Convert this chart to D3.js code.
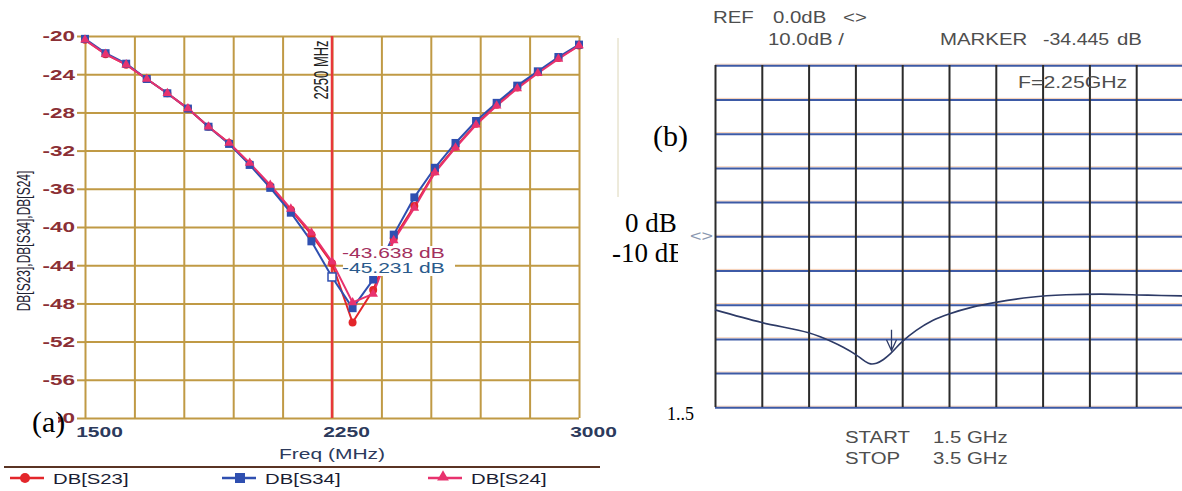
<!DOCTYPE html>
<html><head><meta charset="utf-8">
<script src="https://cdn.jsdelivr.net/npm/d3@7"></script>
<style>html,body{margin:0;padding:0;background:#fff;} svg{display:block;}</style>
</head><body>
<svg id="c" width="1182" height="491"></svg>
<script>
// ---------- Panel (a) data ----------
const freqA = [1500,1562.5,1625,1687.5,1750,1812.5,1875,1937.5,2000,2062.5,2125,2187.5,2250,
               2312.5,2375,2437.5,2500,2562.5,2625,2687.5,2750,2812.5,2875,2937.5,3000];
const s23 = [-20.4,-21.9,-23.0,-24.5,-26.0,-27.6,-29.5,-31.2,-33.4,-35.7,-38.2,-40.8,-43.8,
             -50.0,-46.6,-41.2,-37.8,-34.2,-31.6,-29.2,-27.2,-25.4,-23.8,-22.3,-21.0];
const s34 = [-20.3,-21.8,-22.9,-24.5,-26.0,-27.6,-29.5,-31.3,-33.5,-35.9,-38.5,-41.5,-45.231,
             -48.5,-45.5,-40.8,-36.9,-33.8,-31.2,-28.9,-27.0,-25.2,-23.7,-22.2,-20.9];
const s24 = [-20.4,-21.9,-23.0,-24.5,-26.0,-27.6,-29.5,-31.2,-33.3,-35.6,-38.1,-40.6,-43.638,
             -47.9,-47.0,-41.4,-38.0,-34.3,-31.7,-29.3,-27.3,-25.5,-23.9,-22.4,-21.0];
const seriesNamesA = ["DB[S23]","DB[S34]","DB[S24]"];
const gridFreqA = [1500,1650,1800,1950,2100,2250,2400,2550,2700,2850,3000];
const xTicksA = [1500,2250,3000];
const yTicksA = [-20,-24,-28,-32,-36,-40,-44,-48,-52,-56,-60];
const markerFreqA = 2250;
const markerLabelA = "2250 MHz";
const markerValsA = ["-43.638 dB","-45.231 dB"];

// ---------- Panel (b) data ----------
const traceFreqB = [1.5,1.7,1.9,2.0,2.05,2.1,2.14,2.165,2.19,2.22,2.25,2.3,2.36,2.43,2.5,2.6,2.7,2.85,3.0,3.15,3.35,3.5];
const traceDbB   = [-21.6,-25.3,-28.3,-30.9,-32.6,-34.6,-36.6,-37.4,-37.2,-36.1,-34.4,-30.9,-27.6,-24.7,-22.8,-20.8,-19.4,-17.9,-17.2,-17.0,-17.3,-17.5];
const gridFreqB = [1.5,1.7,1.9,2.1,2.3,2.5,2.7,2.9,3.1,3.3,3.5];
const gridDbB = [-50,-40,-30,-20,-10,0,10,20,30,40,50];
const markerFreqB = 2.25;

const SX = 1.5;
const SANS = "'Liberation Sans', Arial, sans-serif";
const SERIF = "'Liberation Serif', 'Times New Roman', serif";
const svg = d3.select("#c");

function stext(parent, x, y, str, o) {
  o = o || {};
  return parent.append("text")
    .attr("transform", `translate(${x},${y}) scale(${o.sx||1},1)` + (o.rot ? ` rotate(${o.rot})` : ""))
    .attr("text-anchor", o.anchor || "start")
    .attr("font-family", o.family || SANS)
    .attr("font-size", o.size || 14)
    .attr("font-weight", o.weight || "normal")
    .attr("fill", o.fill || "#222")
    .text(str);
}

// ================= Panel (a) =================
const xA = d3.scaleLinear().domain([1500,3000]).range([85,579]);
const yA = d3.scaleLinear().domain([-60,-20]).range([418,36]);
const gA = svg.append("g");
const GRID_A = "#c09a45";

gA.append("g").attr("transform","translate(0,418)")
  .call(d3.axisBottom(xA).tickValues(gridFreqA).tickSize(-382).tickFormat(""))
  .call(g => g.select(".domain").remove())
  .selectAll("line").attr("stroke", GRID_A).attr("stroke-width", 2);

gA.append("g").attr("transform","translate(85,0)")
  .call(d3.axisLeft(yA).tickValues(yTicksA).tickSizeInner(-494).tickSizeOuter(0).tickFormat(""))
  .call(g => g.select(".domain").remove())
  .selectAll("line").attr("stroke", GRID_A).attr("stroke-width", 2);

const yAx = gA.append("g").attr("transform","translate(85,0)")
  .call(d3.axisLeft(yA).tickValues(yTicksA).tickSize(8).tickFormat(d => d));
yAx.select(".domain").remove();
yAx.selectAll("line").attr("stroke", GRID_A).attr("stroke-width", 2);
yAx.selectAll("text")
  .attr("x", -10 / SX).attr("transform", `scale(${SX},1)`)
  .attr("font-family", SANS).attr("font-size", 15).attr("font-weight", "bold").attr("fill", "#8b2f35");

const xAx = gA.append("g").attr("transform","translate(0,418)")
  .call(d3.axisBottom(xA).tickValues(xTicksA).tickSize(0).tickPadding(9).tickFormat(d => d));
xAx.select(".domain").remove();
xAx.selectAll("text")
  .attr("x", 14 / SX).attr("transform", `scale(${SX},1)`)
  .attr("font-family", SANS).attr("font-size", 14).attr("font-weight", "bold").attr("fill", "#2c3a5c");

// marker vertical line
gA.append("line").attr("x1", xA(markerFreqA)).attr("x2", xA(markerFreqA))
  .attr("y1", yA(-20)).attr("y2", yA(-60)).attr("stroke", "#e8383a").attr("stroke-width", 2.5);
stext(gA, xA(markerFreqA) - 4, 70, markerLabelA, {size: 13, sx: SX, rot: -90, anchor: "middle", fill: "#222"});

const line = d3.line().x((d,i) => xA(freqA[i])).y(d => yA(d));
const colors = {s23: "#e3262b", s34: "#2f4fb0", s24: "#e8326e"};

gA.append("path").datum(s23).attr("d", line).attr("fill","none").attr("stroke", colors.s23).attr("stroke-width", 2);
gA.append("path").datum(s34).attr("d", line).attr("fill","none").attr("stroke", colors.s34).attr("stroke-width", 2);
gA.append("path").datum(s24).attr("d", line).attr("fill","none").attr("stroke", colors.s24).attr("stroke-width", 2);

gA.selectAll("circle.s23").data(s23).join("circle").attr("class","s23")
  .attr("cx", (d,i) => xA(freqA[i])).attr("cy", d => yA(d)).attr("r", 4).attr("fill", colors.s23);
gA.selectAll("rect.s34").data(s34).join("rect").attr("class","s34")
  .attr("x", (d,i) => xA(freqA[i]) - 4).attr("y", d => yA(d) - 4).attr("width", 8).attr("height", 8).attr("fill", colors.s34);
const tri = d3.symbol().type(d3.symbolTriangle).size(40);
gA.selectAll("path.s24").data(s24).join("path").attr("class","s24")
  .attr("transform", (d,i) => `translate(${xA(freqA[i])},${yA(d)})`).attr("d", tri).attr("fill", colors.s24);

// annotation box
gA.append("rect").attr("x", 343).attr("y", 246).attr("width", 112).attr("height", 30).attr("fill", "#fff");
stext(gA, 342, 258, markerValsA[0], {size: 14, sx: 1.5, fill: "#a3305e"});
stext(gA, 342, 273, markerValsA[1], {size: 14, sx: 1.5, fill: "#2a5a8c"});
// marker point (white square)
const mi = freqA.indexOf(markerFreqA);
gA.append("rect").attr("x", xA(freqA[mi]) - 4).attr("y", yA(s34[mi]) - 4).attr("width", 8).attr("height", 8)
  .attr("fill", "#fff").attr("stroke", colors.s34).attr("stroke-width", 1.5);

// axis titles
stext(gA, 332, 459, "Freq (MHz)", {size: 14, sx: 1.5, anchor: "middle", fill: "#2c3a5c"});
stext(gA, 30, 241, "DB[S23],DB[S34],DB[S24]", {size: 12, sx: SX, rot: -90, anchor: "middle", fill: "#1e2233"});

// legend
gA.append("line").attr("x1", 4).attr("x2", 600).attr("y1", 467).attr("y2", 467).attr("stroke", "#5a3424").attr("stroke-width", 2);
const legX = [10, 222, 428];
const legColors = [colors.s23, colors.s34, colors.s24];
seriesNamesA.forEach((n, i) => {
  const x0 = legX[i];
  gA.append("line").attr("x1", x0).attr("x2", x0 + 34).attr("y1", 478).attr("y2", 478).attr("stroke", legColors[i]).attr("stroke-width", 2.5);
  if (i === 0) gA.append("circle").attr("cx", x0 + 15).attr("cy", 478).attr("r", 5).attr("fill", legColors[i]);
  if (i === 1) gA.append("rect").attr("x", x0 + 13).attr("y", 473).attr("width", 10).attr("height", 10).attr("fill", legColors[i]);
  if (i === 2) gA.append("path").attr("transform", `translate(${x0 + 15},477)`).attr("d", d3.symbol().type(d3.symbolTriangle).size(60)).attr("fill", legColors[i]);
  stext(gA, x0 + 43, 484, n, {size: 14, sx: 1.45, fill: "#1a1d33"});
});

// (a) label
gA.append("rect").attr("x", 30).attr("y", 410).attr("width", 28).attr("height", 30).attr("fill", "#fff");
stext(gA, 32, 432, "(a)", {size: 30, family: SERIF, fill: "#000"});

// faint scan edge
svg.append("line").attr("x1", 618).attr("x2", 618).attr("y1", 38).attr("y2", 197).attr("stroke", "#dcd6b8").attr("stroke-width", 1);

// ================= Panel (b) =================
const xB = d3.scaleLinear().domain([1.5,3.5]).range([715,1183]);
const yB = d3.scaleLinear().domain([-50,50]).range([407,65]);
const gB = svg.append("g");

gB.append("g").attr("transform","translate(715,-1.3)")
  .call(d3.axisLeft(yB).tickValues(gridDbB).tickSizeInner(-468).tickSizeOuter(0).tickFormat(""))
  .call(g => g.select(".domain").remove())
  .selectAll("line").attr("stroke", "#f2c2a0").attr("stroke-width", 1).attr("opacity", 0.8);
gB.append("g").attr("transform","translate(715,0.3)")
  .call(d3.axisLeft(yB).tickValues(gridDbB).tickSizeInner(-468).tickSizeOuter(0).tickFormat(""))
  .call(g => g.select(".domain").remove())
  .selectAll("line").attr("stroke", "#3d5aa6").attr("stroke-width", 2);
gB.append("g").attr("transform","translate(0,407)")
  .call(d3.axisBottom(xB).tickValues(gridFreqB).tickSizeInner(-342).tickSizeOuter(0).tickFormat(""))
  .call(g => g.select(".domain").remove())
  .selectAll("line").attr("stroke", "#2b2b2b").attr("stroke-width", 2);

const lineB = d3.line().x((d,i) => xB(traceFreqB[i])).y(d => yB(d)).curve(d3.curveCatmullRom.alpha(0.5));
gB.append("path").datum(traceDbB).attr("d", lineB).attr("fill","none").attr("stroke","#2d3a66").attr("stroke-width",1.6);

// marker symbol
const mx = xB(markerFreqB);
const my = yB(-34.445);
gB.append("path").attr("d", `M${mx+1},${my-24} V${my-4} M${mx-4},${my-14} L${mx+1},${my-3} L${mx+6},${my-14}`)
  .attr("fill","none").attr("stroke","#2d3a66").attr("stroke-width",1.3);

// header texts
const GREY = "#4e4e4e";
stext(gB, 713, 23, "REF", {size: 17, sx: 1.2, fill: GREY});
stext(gB, 773, 23, "0.0dB", {size: 17, sx: 1.2, fill: GREY});
stext(gB, 843, 23, "<>", {size: 17, sx: 1.2, fill: GREY});
stext(gB, 768, 45, "10.0dB /", {size: 17, sx: 1.2, fill: GREY});
stext(gB, 940, 45, "MARKER", {size: 17, sx: 1.2, fill: GREY});
stext(gB, 1043, 45, "-34.445", {size: 17, sx: 1.15, fill: GREY});
stext(gB, 1117, 45, "dB", {size: 17, sx: 1.2, fill: GREY});
stext(gB, 1018, 88, "F=2.25GHz", {size: 17, sx: 1.25, fill: GREY});
stext(gB, 845, 443, "START", {size: 17, sx: 1.2, fill: GREY});
stext(gB, 933, 443, "1.5 GHz", {size: 17, sx: 1.2, fill: GREY});
stext(gB, 845, 464, "STOP", {size: 17, sx: 1.2, fill: GREY});
stext(gB, 933, 464, "3.5 GHz", {size: 17, sx: 1.2, fill: GREY});
stext(gB, 690, yB(0) + 5, "<>", {size: 14, sx: 1.4, fill: "#8a98b0"});

// overlay labels
stext(gB, 653, 146, "(b)", {size: 30, family: SERIF, fill: "#000"});
stext(gB, 625, 232, "0 dB", {size: 27, family: SERIF, fill: "#000"});
svg.append("clipPath").attr("id","clipm10").append("rect").attr("x", 600).attr("y", 238).attr("width", 78).attr("height", 40);
const gClip = gB.append("g").attr("clip-path", "url(#clipm10)");
stext(gClip, 612, 262, "-10 dB", {size: 27, family: SERIF, fill: "#000"});
stext(gB, 667, 420, "1..5", {size: 18, family: SERIF, fill: "#000"});
</script>
</body></html>
